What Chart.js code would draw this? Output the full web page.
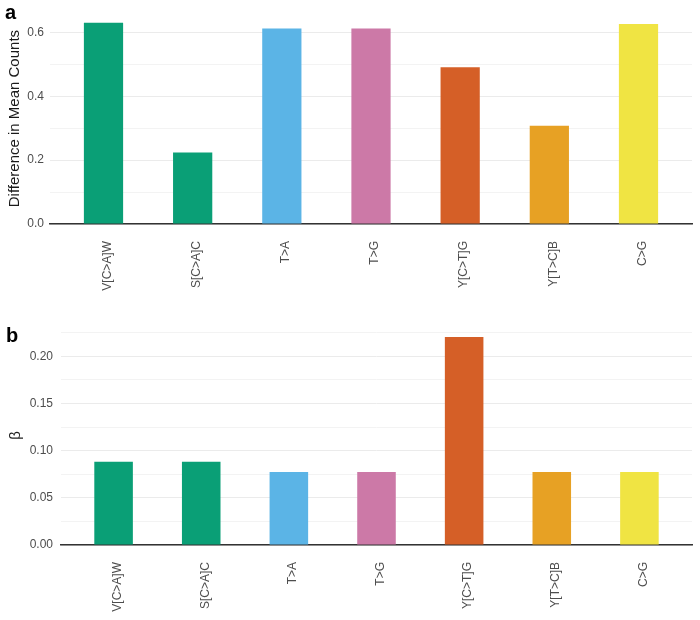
<!DOCTYPE html>
<html>

<head>
    <title>Mutation signatures</title>
    <script src="https://cdn.jsdelivr.net/npm/chart.js"></script>
    <style>
        body {
            margin: 0;
            background: #fff;
            font-family: "Liberation Sans", Arial, sans-serif;
        }
        
        .panel {
            position: absolute;
            left: 0;
            width: 700px;
            height: 310px;
        }
        
        .tag {
            position: absolute;
            font-weight: bold;
            font-size: 20px;
            line-height: 23px;
            color: #000;
        }
    </style>
</head>

<body>
    <div class="panel" style="top:0"><canvas id="chartA"></canvas></div>
    <div class="panel" style="top:310px"><canvas id="chartB"></canvas></div>
    <div class="tag" style="left:5px; top:1px">a</div>
    <div class="tag" style="left:6px; top:324px">b</div>

    <script>
        const categories = ['V[C>A]W', 'S[C>A]C', 'T>A', 'T>G', 'Y[C>T]G', 'Y[T>C]B', 'C>G'];
        const meanCountDiff = [0.630, 0.224, 0.612, 0.612, 0.491, 0.308, 0.626];
        const betaValues = [0.0883, 0.0883, 0.0774, 0.0774, 0.2204, 0.0774, 0.0774];
        const barColors = ['#0a9f76', '#0a9f76', '#5bb4e6', '#cc79a7', '#d55f27', '#e7a124', '#f0e443'];

        const font = "'Liberation Sans', Arial, sans-serif";

        function makeChart(id, values, opts) {
            const ctx = document.getElementById(id).getContext('2d');
            return new Chart(ctx, {
                type: 'bar',
                data: {
                    datasets: [{
                        data: values.map((v, i) => ({ x: i + 1, y: v })),
                        backgroundColor: barColors,
                        borderWidth: 0,
                        categoryPercentage: 1,
                        barPercentage: 0.44
                    }]
                },
                options: {
                    responsive: true,
                    maintainAspectRatio: false,
                    animation: false,
                    layout: { padding: { top: opts.padTop, right: 8, left: 0, bottom: 0 } },
                    plugins: { legend: { display: false }, tooltip: { enabled: false } },
                    scales: {
                        x: {
                            type: 'linear',
                            offset: false,
                            min: 0.4,
                            max: 7.6,
                            afterBuildTicks: s => { s.ticks = categories.map((c, i) => ({ value: i + 1 })); },
                            afterFit: s => { s.height = opts.xHeight; },
                            grid: { display: false, drawTicks: false },
                            border: { display: true, color: '#333333', width: 1.6 },
                            ticks: {
                                autoSkip: false,
                                minRotation: 90,
                                maxRotation: 90,
                                padding: 17,
                                labelOffset: 4,
                                color: '#4d4d4d',
                                font: { family: font, size: 12 },
                                callback: v => categories[Math.round(v) - 1]
                            }
                        },
                        y: {
                            min: 0,
                            max: opts.yMax,
                            afterFit: s => { s.width = opts.yWidth; },
                            grid: {
                                drawTicks: false,
                                color: c => (c.tick && c.tick.major0) ? '#ebebeb' : '#f3f3f3',
                                lineWidth: 1
                            },
                            border: { display: false },
                            ticks: {
                                stepSize: opts.step,
                                includeBounds: false,
                                padding: opts.tickPad,
                                color: '#4d4d4d',
                                font: { family: font, size: 12 },
                                callback: v => (Math.round(v / opts.step) % 2 === 0) ? v.toFixed(opts.digits) : ''
                            },
                            afterTickToLabelConversion: s => {
                                s.ticks.forEach(t => { t.major0 = Math.round(t.value / opts.step) % 2 === 0; });
                            },
                            title: {
                                display: true,
                                text: opts.title,
                                color: '#1a1a1a',
                                font: { family: font, size: 15 },
                                padding: { top: opts.titlePad, bottom: 0 }
                            }
                        }
                    }
                }
            });
        }

        makeChart('chartA', meanCountDiff, {
            yMax: 0.66, step: 0.1, digits: 1, padTop: 6, xHeight: 86,
            yWidth: 50, tickPad: 6, titlePad: 5.5, title: 'Difference in Mean Counts'
        });
        makeChart('chartB', betaValues, {
            yMax: 0.232, step: 0.025, digits: 2, padTop: 16, xHeight: 75,
            yWidth: 61, tickPad: 8, titlePad: 6.5, title: 'β'
        });
    </script>
</body>

</html>
